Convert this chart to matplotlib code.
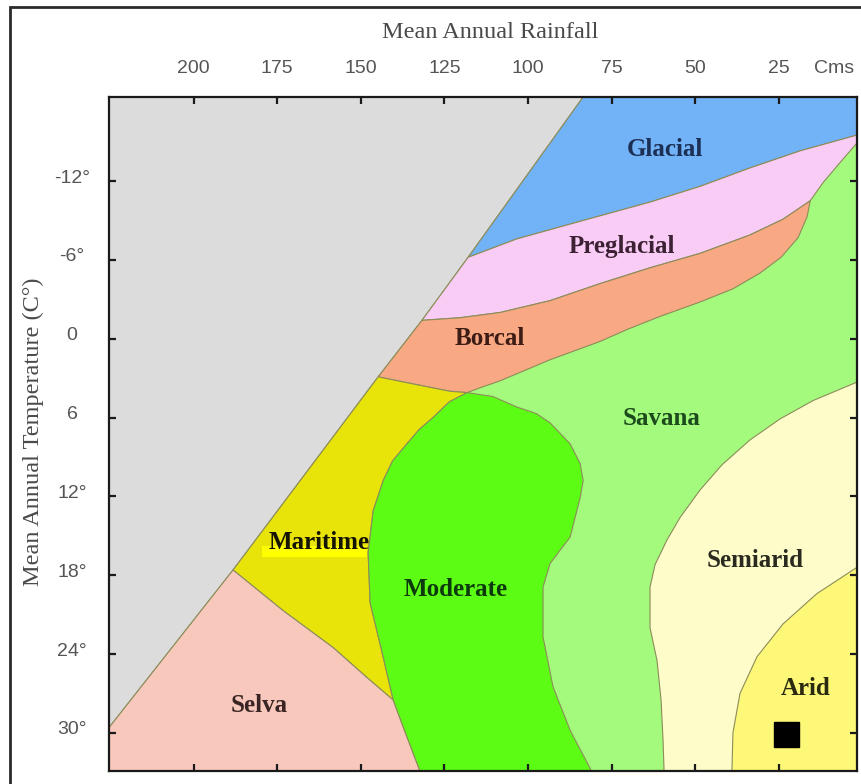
import numpy as np
import matplotlib
matplotlib.use('Agg')
import matplotlib.pyplot as plt
from matplotlib.patches import Polygon, Rectangle
import matplotlib.transforms as mtransforms

# axis range: rainfall (cm, decreasing to the right), temperature (deg C, increasing downwards)
R_LEFT, R_RIGHT = 225.3, 1.6
T_TOP, T_BOT = -18.4, 32.9

# region boundaries, as (rainfall, temperature)
diag_r = [225.3, 188.2, 144.8, 131.7, 117.9, 83.5]
diag_t = [29.6, 17.6, 2.9, -1.4, -6.2, -18.4]

glac_r = [1.6, 18.6, 33.6, 48.5, 63.5, 83.5, 103.3, 117.9]
glac_t = [-15.5, -14.3, -13.0, -11.6, -10.4, -9.0, -7.6, -6.2]

pre_sav_r = [1.6, 6.7, 11.7, 15.6]
pre_sav_t = [-14.9, -13.4, -11.9, -10.5]

pre_bor_r = [15.6, 23.7, 33.6, 48.5, 63.5, 78.4, 93.4, 108.3, 120.3, 131.7]
pre_bor_t = [-10.5, -9.1, -7.9, -6.5, -5.4, -4.2, -2.9, -2.0, -1.6, -1.4]

bor_sav_r = [15.6, 16.5, 19.2, 24.3, 30.6, 38.7, 48.5, 60.5, 70.4, 78.4, 93.4, 108.3, 114.0, 118.2]
bor_sav_t = [-10.5, -9.3, -7.7, -6.2, -5.0, -3.8, -2.8, -1.7, -0.7, 0.2, 1.6, 3.2, 3.7, 4.1]

bor_mar_r = [144.8, 133.2, 123.3, 118.2]
bor_mar_t = [2.9, 3.5, 4.0, 4.1]

mod_left_r = [118.2, 123.5, 128.4, 132.5, 136.2, 140.5, 143.3, 146.3, 147.8, 147.2, 143.6, 140.3, 136.2, 132.3]
mod_left_t = [4.1, 4.8, 6.0, 6.9, 8.0, 9.3, 10.8, 13.1, 16.3, 20.1, 23.9, 27.5, 30.3, 32.9]

mod_right_r = [118.2, 110.5, 103.3, 97.5, 93.4, 87.4, 84.4, 83.5, 84.4, 87.4, 93.4, 95.5, 95.5, 92.5, 87.4, 81.0]
mod_right_t = [4.1, 4.4, 5.2, 5.7, 6.4, 8.0, 9.5, 10.8, 12.1, 15.1, 17.1, 18.9, 22.7, 26.5, 29.8, 32.9]

selva_r = [188.2, 173.2, 158.3, 148.1, 140.3]
selva_t = [17.6, 20.7, 23.5, 25.8, 27.5]

semi_r = [1.6, 14.7, 24.6, 33.6, 42.0, 48.5, 54.5, 58.4, 62.0, 63.5, 63.5, 61.4, 60.2, 59.6, 59.3]
semi_t = [3.3, 4.7, 6.1, 7.7, 9.6, 11.5, 13.6, 15.3, 17.2, 18.9, 22.0, 24.5, 27.5, 30.6, 32.9]

arid_r = [1.6, 13.6, 23.7, 31.5, 36.6, 38.7, 39.0]
arid_t = [17.4, 19.4, 21.7, 24.2, 27.0, 30.0, 32.9]

# station marker
site_r, site_t = 22.8, 30.1

# labels
names = ['Glacial', 'Preglacial', 'Borcal', 'Savana', 'Maritime', 'Moderate', 'Semiarid', 'Arid', 'Selva']
name_r = [59.0, 71.9, 111.3, 59.9, 162.5, 121.5, 32.1, 17.1, 180.4]
name_t = [-14.4, -7.0, -0.05, 6.05, 15.5, 19.1, 16.9, 26.6, 27.9]
name_col = ['#1c2f55', '#3c2034', '#3c1c14', '#1c4a1c', '#141400', '#0c3a0c', '#2a2a20', '#2a2a10', '#3a2424']

xticks = [200, 175, 150, 125, 100, 75, 50, 25]
yticks = [-12, -6, 0, 6, 12, 18, 24, 30]
ylabels = ['-12°', '-6°', '0', '6', '12°', '18°', '24°', '30°']


def pts(r, t):
    return np.column_stack([r, t])


def rev(a):
    return a[::-1]


diag = pts(diag_r, diag_t)
glac = pts(glac_r, glac_t)
pre_sav = pts(pre_sav_r, pre_sav_t)
pre_bor = pts(pre_bor_r, pre_bor_t)
bor_sav = pts(bor_sav_r, bor_sav_t)
bor_mar = pts(bor_mar_r, bor_mar_t)
mod_l = pts(mod_left_r, mod_left_t)
mod_r = pts(mod_right_r, mod_right_t)
selva = pts(selva_r, selva_t)
semi = pts(semi_r, semi_t)
arid = pts(arid_r, arid_t)

# index where the selva boundary meets the moderate zone
k = list(mod_left_r).index(140.3)

regions = [
    # savana = whole area right of the diagonal, others are drawn over it
    (np.vstack([diag, [[R_RIGHT, T_TOP], [R_RIGHT, T_BOT], [R_LEFT, T_BOT]]]), '#a4fa7c'),
    (np.vstack([[[R_RIGHT, T_TOP]], glac, diag[5:]]), '#72b2f6'),
    (np.vstack([glac, rev(diag[3:5]), rev(pre_bor), rev(pre_sav)]), '#f8ccf4'),
    (np.vstack([pre_bor, rev(diag[2:4]), bor_mar, rev(bor_sav)]), '#f8a882'),
    (np.vstack([bor_mar, mod_l[1:k+1], rev(selva), diag[1:3]]), '#e8e40a'),
    (np.vstack([diag[0:2], selva, mod_l[k:], [[R_LEFT, T_BOT]]]), '#f8c8bc'),
    (np.vstack([mod_l, rev(mod_r)]), '#5cfc14'),
    (np.vstack([semi, [[R_RIGHT, T_BOT]]]), '#fefcc8'),
    (np.vstack([arid, [[R_RIGHT, T_BOT]]]), '#fef878'),
]

fig = plt.figure(figsize=(8.62, 7.84), dpi=100)
ax = fig.add_axes([109/862, 1-771/784, (857-109)/862, (771-97)/784])
ax.set_facecolor('#dcdcdc')

for poly, col in regions:
    ax.add_patch(Polygon(poly, closed=True, facecolor=col, edgecolor='#8c8c5a',
                         linewidth=0.8, zorder=1))

# highlight behind "Maritime"
ax.add_patch(Rectangle((179.5, 15.8), 148.1-179.5, 0.8, facecolor='#ffff00',
                       edgecolor='none', zorder=2))

for n, r, t, c in zip(names, name_r, name_t, name_col):
    ax.text(r, t, n, ha='center', va='center', fontsize=18, fontweight='bold',
            family='Liberation Serif', color=c, zorder=3)

ax.plot([site_r], [site_t], marker='s', markersize=18, color='black', zorder=4)

ax.set_xlim(R_LEFT, R_RIGHT)
ax.set_ylim(T_BOT, T_TOP)

ax.set_xticks(xticks)
ax.set_xticklabels([str(x) for x in xticks])
ax.set_yticks(yticks)
ax.set_yticklabels(ylabels)
ax.tick_params(axis='x', top=True, bottom=True, labeltop=True, labelbottom=False,
               direction='in', length=5, width=1.6, pad=14.5, labelsize=14,
               colors='#1a1a1a', labelcolor='#555555')
ax.tick_params(axis='y', left=True, right=True, labelleft=True, labelright=False,
               direction='in', length=5, width=1.6, pad=26.6, labelsize=14,
               colors='#1a1a1a', labelcolor='#555555')
for lab in ax.get_yticklabels():
    lab.set_horizontalalignment('center')
    lab.set_transform(lab.get_transform() +
                      mtransforms.ScaledTranslation(0, 5/100, fig.dpi_scale_trans))
for lab in ax.get_xticklabels() + ax.get_yticklabels():
    lab.set_family('Liberation Sans')

for s in ax.spines.values():
    s.set_linewidth(1.6)
    s.set_color('#1a1a1a')
    s.set_zorder(5)

ax.text(8.5, 1 + 28/674, 'Cms', transform=ax.get_xaxis_transform(), ha='center',
        va='center', fontsize=14, family='Liberation Sans', color='#555555')

fig.text(490/862, 1-33/784, 'Mean Annual Rainfall', ha='center', va='center',
         fontsize=17.5, family='Liberation Serif', color='#4a4a4a')
fig.text(33/862, 1-432/784, 'Mean Annual Temperature (C°)', ha='center', va='center',
         rotation=90, fontsize=17.5, family='Liberation Serif', color='#4a4a4a')

# outer frame (runs off the right and bottom edge)
fig.add_artist(Rectangle((10/862, -0.05), 1.2, 1.05 - 7/784, transform=fig.transFigure,
                         fill=False, edgecolor='#2a2a2a', linewidth=2))

fig.savefig('out.png', dpi=100)
